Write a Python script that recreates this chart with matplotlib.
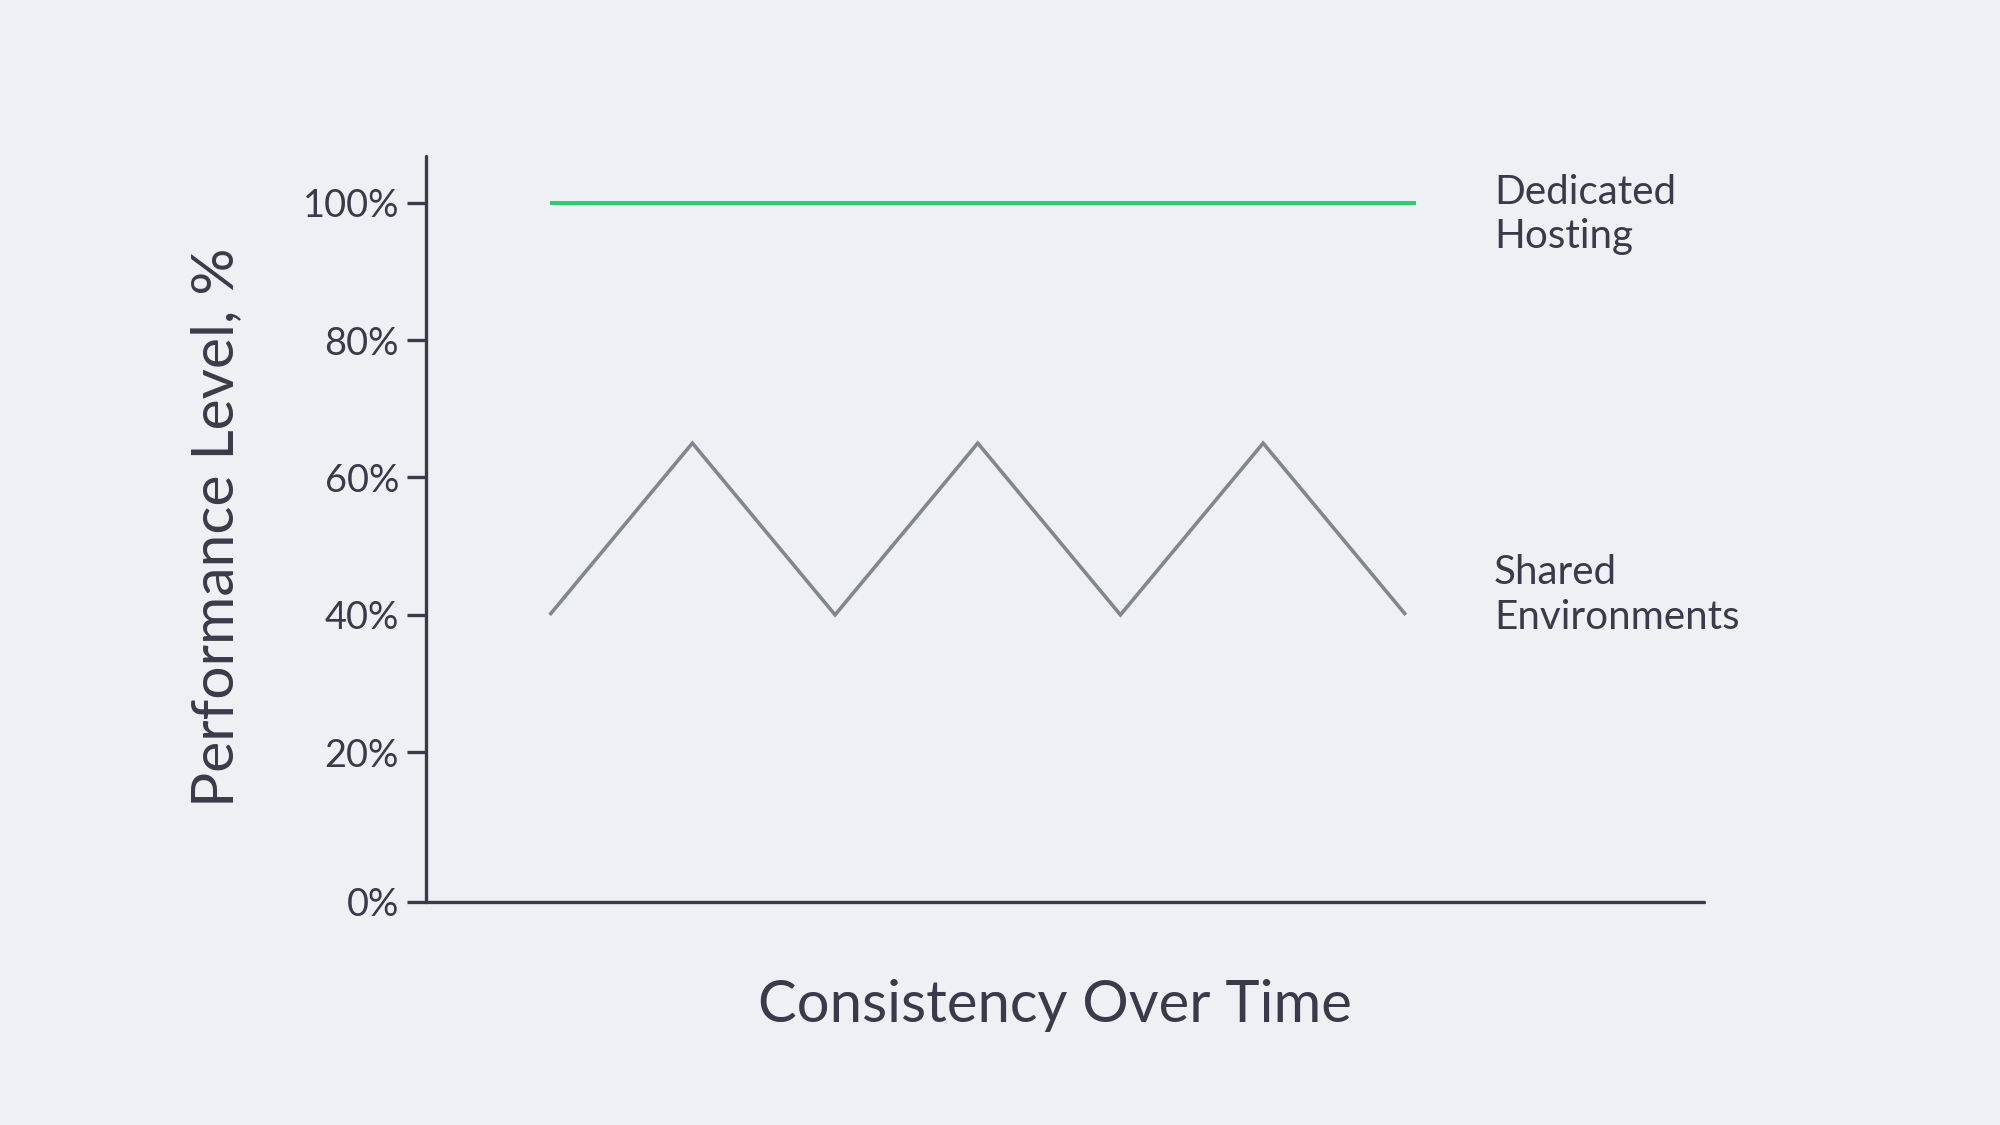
import matplotlib
matplotlib.use("Agg")
import matplotlib.pyplot as plt

# ---- data ----
time_shared = [0, 1, 2, 3, 4, 5, 6]
shared_perf = [40, 65, 40, 65, 40, 65, 40]
time_dedicated = [0, 6.07]
dedicated_perf = [100, 100]

ytick_values = [20, 40, 60, 80, 100]
ytick_labels = ["0%", "20%", "40%", "60%", "80%", "100%"]
series_labels = ["Dedicated\nHosting", "Shared\nEnvironments"]
x_title = "Consistency Over Time"
y_title = "Performance Level, %"

# ---- style ----
BG = "#eff0f4"
INK = "#3b3a4a"
GREEN = "#2ecc71"
GRAY = "#80878f"
FONT = ["Lato", "DejaVu Sans"]
plt.rcParams["font.family"] = FONT

W, H = 2000, 1125
fig = plt.figure(figsize=(20, 11.25), dpi=100, facecolor=BG)

# axes box in pixels: left spine x=426, right end 1704, bottom y=902, top y=156
ax = fig.add_axes([426 / W, (H - 902) / H, (1704 - 426) / W, (902 - 156) / H])
ax.set_facecolor(BG)

Y_BOTTOM = -1.8
ax.set_ylim(Y_BOTTOM, 106.8)
ax.set_xlim(-0.867, 8.09)

ax.plot(time_dedicated, dedicated_perf, color=GREEN, lw=2.9, solid_capstyle="butt")
ax.plot(time_shared, shared_perf, color=GRAY, lw=2.6, solid_joinstyle="miter",
        solid_capstyle="butt")

for s in ["top", "right"]:
    ax.spines[s].set_visible(False)
for s in ["left", "bottom"]:
    ax.spines[s].set_color(INK)
    ax.spines[s].set_linewidth(2.4)
    ax.spines[s].set_capstyle("round")

ax.set_yticks([Y_BOTTOM] + ytick_values)
ax.set_yticklabels(ytick_labels)
ax.tick_params(axis="y", length=13.7, width=2.4, color=INK, pad=5.8,
               labelsize=27.4, labelcolor=INK)
ax.set_xticks([])

# axis titles
fig.text(1055 / W, (H - 1021.7) / H, x_title, ha="center", va="baseline",
         fontsize=41.8, color=INK)
fig.text(233.4 / W, (H - 527) / H, y_title, ha="center", va="baseline",
         rotation=90, rotation_mode="anchor", fontsize=42.3, color=INK)

# series labels (baseline of last line)
fig.text(1494 / W, (H - 248.3) / H, series_labels[0], ha="left", va="baseline",
         fontsize=29.1, color=INK, linespacing=1.25)
fig.text(1494 / W, (H - 629) / H, series_labels[1], ha="left", va="baseline",
         fontsize=29.1, color=INK, linespacing=1.25)

fig.savefig("out.png", dpi=100, facecolor=BG)
